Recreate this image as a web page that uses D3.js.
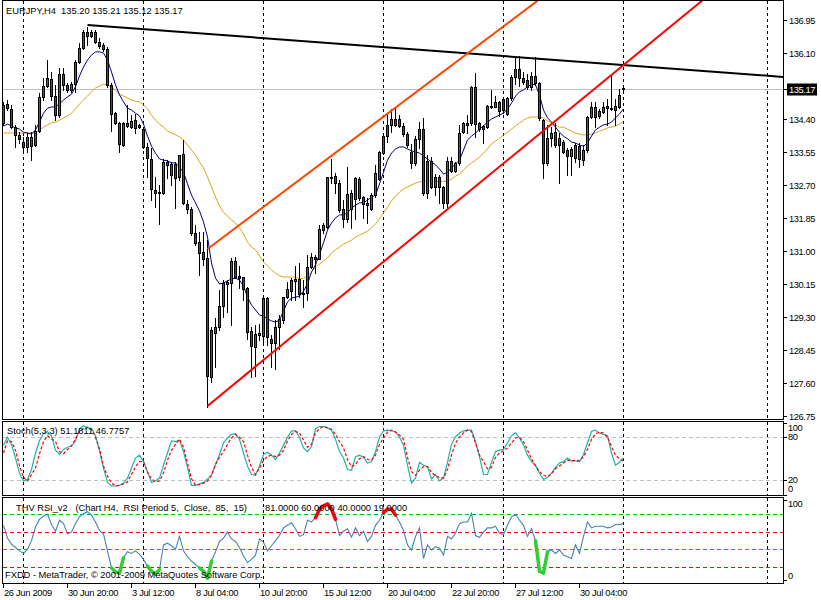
<!DOCTYPE html>
<html><head><meta charset="utf-8">
<script src="https://cdn.jsdelivr.net/npm/d3@7"></script>
<style>
html,body{margin:0;padding:0;background:#fff;}
svg{display:block;font-family:"Liberation Sans",Arial,sans-serif;}
</style></head><body>
<svg id="c" width="821" height="600"></svg>
<script>
// ---------------- DATA ----------------
const symbolTitle = "EURJPY,H4";
const lastQuote = [135.20, 135.21, 135.12, 135.17];
const openP = [134.30,134.79,134.66,134.19,133.99,133.81,133.68,133.94,133.73,134.09,
134.97,135.25,135.43,134.99,134.50,135.56,135.28,135.15,135.30,135.87,
136.23,136.64,136.54,136.64,136.38,136.31,136.20,135.28,134.55,134.30,
133.73,134.30,134.19,134.37,134.25,134.14,133.68,133.37,132.57,132.52,
132.49,133.29,132.96,133.24,132.91,133.50,132.21,132.08,131.46,131.23,
130.97,130.82,127.75,128.89,129.04,129.58,130.15,130.18,130.74,130.36,
130.33,130.05,128.94,128.53,128.84,128.81,129.79,128.73,128.63,129.04,
129.22,129.81,129.97,130.23,130.28,129.89,129.92,130.59,130.84,130.79,
131.54,131.62,132.88,132.93,132.75,132.08,131.83,132.08,132.34,132.85,
132.39,132.23,132.08,132.44,132.85,133.52,133.96,134.25,134.25,134.40,
134.22,134.01,133.55,133.27,133.89,134.14,132.49,133.32,132.65,132.91,
132.65,132.23,133.32,133.06,133.27,134.06,134.30,134.30,135.23,134.30,
134.22,134.19,134.73,134.71,134.84,134.92,134.53,134.94,135.48,135.69,
135.46,135.40,135.23,135.51,135.33,134.37,133.27,133.91,134.06,133.91,
133.81,133.60,133.45,133.40,133.70,133.34,133.60,134.45,134.71,134.61,
134.58,134.73,134.68,134.63,134.71,135.20];
const highP = [134.84,134.89,134.76,134.25,134.06,133.94,134.04,134.06,134.25,135.07,
135.46,135.92,135.61,135.28,135.71,135.71,135.33,135.35,135.92,136.36,
136.69,136.77,136.69,136.69,136.49,136.36,136.25,135.33,134.58,134.32,
134.32,134.76,134.50,134.53,134.27,134.19,133.78,133.65,132.91,132.70,
133.37,133.34,133.29,133.29,133.47,133.87,132.31,132.13,131.67,131.49,
131.49,131.28,129.04,129.27,130.00,130.25,130.25,130.82,130.84,130.61,
130.33,130.07,129.04,129.09,129.12,129.81,129.81,128.84,129.22,129.35,
129.81,130.20,130.31,130.61,130.69,130.25,130.90,130.95,130.90,131.67,
131.72,132.91,133.37,133.01,132.83,132.31,133.16,132.57,132.91,132.91,
132.41,132.36,132.49,133.22,133.57,134.04,134.55,134.66,134.71,134.50,
134.30,134.06,133.76,133.96,134.32,134.42,133.47,133.42,132.98,132.96,
132.67,133.42,133.42,133.29,134.25,134.32,134.50,135.25,135.59,134.32,
134.25,134.76,135.15,134.99,134.86,134.97,134.97,135.54,136.02,136.02,
135.61,135.56,135.61,135.99,135.35,134.40,134.25,134.19,134.30,134.04,
133.86,133.65,133.68,133.78,133.78,133.73,134.48,134.84,134.84,134.66,
134.84,134.92,135.53,134.92,135.17,135.21];
const lowP = [134.25,134.63,134.17,133.68,133.78,133.60,133.55,133.34,133.70,134.06,
134.89,135.22,134.89,134.37,134.45,135.15,135.09,135.09,135.09,135.84,
136.20,136.31,136.51,136.36,136.23,136.15,135.22,134.09,134.27,133.55,
133.70,134.19,134.17,134.04,134.17,133.65,132.91,132.31,132.13,131.70,
132.47,132.88,132.70,132.11,132.83,132.21,131.98,131.41,131.15,130.38,
130.64,126.98,127.62,128.01,128.96,129.30,129.43,129.09,130.31,130.05,
129.74,128.73,127.75,127.78,128.71,128.66,128.58,128.01,127.96,128.48,
129.14,129.79,129.74,129.74,129.81,129.56,129.74,130.56,130.43,130.82,
131.46,131.59,132.75,132.49,132.01,131.62,131.75,131.59,131.83,132.31,
131.85,131.72,132.06,132.39,132.83,133.50,133.81,134.06,134.22,134.19,
133.96,133.68,133.14,133.22,133.65,132.44,132.36,132.62,132.44,132.23,
132.11,132.13,133.04,133.04,133.22,134.04,134.04,134.25,133.94,134.09,
133.78,134.17,134.68,134.71,134.48,134.55,134.50,134.89,135.30,135.25,
135.30,135.17,135.15,135.28,134.37,132.88,133.22,133.70,133.68,132.75,
133.52,132.96,132.96,133.29,133.16,133.22,133.55,134.43,134.19,134.43,
134.55,134.25,134.63,134.25,134.68,135.12];
const closeP = [134.76,134.68,134.19,133.99,133.88,133.68,133.94,133.70,134.09,134.97,
135.25,135.46,134.99,134.50,135.56,135.28,135.15,135.30,135.87,136.23,
136.64,136.54,136.64,136.38,136.28,136.20,135.28,134.53,134.30,133.76,
134.30,134.22,134.35,134.17,134.19,133.68,133.39,132.60,132.49,132.49,
133.29,133.22,133.24,132.88,133.47,132.23,132.08,131.46,131.21,130.95,
130.79,127.78,128.96,129.04,129.58,130.18,130.20,130.74,130.33,130.31,
130.02,128.91,128.55,128.86,128.89,129.79,128.78,128.63,129.04,129.25,
129.81,130.02,130.25,130.28,129.89,129.92,130.59,130.84,130.79,131.57,
131.67,132.91,132.91,132.75,132.06,131.83,132.47,132.49,132.88,132.36,
132.21,132.18,132.44,133.01,133.55,133.96,134.25,134.40,134.40,134.22,
134.01,133.73,133.27,133.89,134.14,132.49,133.32,132.65,132.91,132.65,
132.23,133.32,133.06,133.27,134.04,134.30,134.25,135.23,134.27,134.14,
134.14,134.73,134.71,134.84,134.61,134.63,134.94,135.49,135.69,135.46,
135.35,135.23,135.51,135.33,134.43,133.27,133.91,134.04,133.73,133.73,
133.55,133.45,133.63,133.73,133.37,133.60,134.45,134.71,134.45,134.48,
134.71,134.68,134.66,134.73,135.02,135.17];
const maFast = [134.22,134.27,134.22,134.17,134.14,134.06,134.04,134.01,134.12,134.32,
134.55,134.68,134.71,134.71,134.79,134.89,134.97,135.04,135.23,135.51,
135.74,135.92,136.05,136.13,136.13,136.10,135.92,135.61,135.28,135.02,
134.84,134.68,134.63,134.55,134.48,134.27,133.96,133.70,133.52,133.37,
133.34,133.32,133.27,133.27,133.16,133.03,132.73,132.44,132.24,132.03,
131.75,131.36,130.69,130.30,130.15,130.18,130.23,130.28,130.30,130.25,
130.10,129.81,129.61,129.48,129.35,129.33,129.25,129.20,129.17,129.22,
129.45,129.69,129.79,129.81,129.84,129.97,130.15,130.46,130.64,130.92,
131.21,131.54,131.72,131.85,131.93,131.93,131.98,132.11,132.18,132.24,
132.24,132.31,132.39,132.44,132.73,133.03,133.34,133.52,133.63,133.68,
133.68,133.63,133.58,133.55,133.52,133.45,133.37,133.29,133.22,133.11,
132.98,133.03,133.14,133.24,133.34,133.60,133.86,133.96,134.04,134.14,
134.22,134.32,134.40,134.45,134.50,134.55,134.66,134.81,134.99,135.10,
135.15,135.23,135.30,135.28,135.02,134.63,134.43,134.32,134.19,134.06,
133.96,133.89,133.81,133.78,133.73,133.70,133.78,133.96,134.12,134.19,
134.25,134.27,134.32,134.43,134.53,134.66];
const maSlow = [134.04,134.04,134.04,134.04,134.04,134.04,134.04,134.04,134.06,134.12,
134.19,134.25,134.30,134.32,134.37,134.43,134.48,134.55,134.66,134.79,
134.89,134.99,135.10,135.20,135.25,135.30,135.28,135.23,135.15,135.04,
134.99,134.94,134.89,134.86,134.84,134.76,134.66,134.50,134.37,134.27,
134.19,134.09,134.04,133.99,133.94,133.86,133.73,133.60,133.47,133.29,
133.14,132.91,132.65,132.39,132.16,132.00,131.90,131.80,131.72,131.59,
131.44,131.23,131.10,131.03,130.87,130.72,130.61,130.51,130.43,130.36,
130.33,130.33,130.33,130.33,130.28,130.30,130.36,130.46,130.59,130.66,
130.74,130.82,130.95,131.03,131.10,131.18,131.23,131.28,131.36,131.41,
131.46,131.51,131.59,131.70,131.83,131.98,132.13,132.29,132.41,132.52,
132.60,132.65,132.70,132.75,132.78,132.80,132.80,132.80,132.80,132.78,
132.80,132.80,132.85,132.93,132.98,133.09,133.19,133.27,133.34,133.42,
133.52,133.63,133.76,133.83,133.91,133.99,134.06,134.14,134.22,134.30,
134.37,134.43,134.45,134.45,134.45,134.43,134.35,134.30,134.25,134.19,
134.19,134.14,134.09,134.04,134.01,133.99,133.99,134.01,134.04,134.09,
134.12,134.17,134.19,134.22,134.27,134.35];
const stochMain = [69,80,70,51,30,19,21,35,58,75,
85,88,82,62,56,63,66,68,74,92,
96,93,92,82,61,37,17,12,12,13,
16,23,37,51,55,46,32,17,19,23,
41,58,75,74,76,60,38,13,13,15,
17,22,27,42,56,72,79,84,85,77,
58,40,28,27,40,56,59,55,49,58,
69,80,89,89,80,65,60,67,92,95,
95,93,90,77,60,51,35,34,53,55,
52,44,46,60,80,89,90,89,88,80,
69,41,16,23,45,41,39,22,28,19,
23,45,70,81,86,89,90,90,74,53,
28,28,45,60,62,63,72,82,86,79,
69,55,46,41,30,21,24,30,38,44,
46,51,47,47,46,56,72,88,90,86,
84,82,58,41,45,51.1811];
const stochSignal = [58,75,74,62,40,24,19,28,37,57,
74,82,78,74,60,57,63,68,78,88,
92,94,91,80,64,40,26,16,12,13,
15,18,28,39,46,46,31,22,18,19,
30,48,62,70,77,66,44,22,13,14,
16,19,27,42,52,60,70,79,84,80,
74,55,38,28,37,48,53,55,53,55,
62,75,84,88,86,76,66,70,86,92,
95,93,91,84,74,65,49,39,42,50,
53,49,48,55,70,79,87,90,87,83,
77,52,32,27,34,39,39,31,26,24,
23,35,55,72,80,86,90,88,72,55,
46,36,38,52,58,61,65,72,79,80,
74,62,50,40,32,27,25,29,36,40,
44,48,47,48,47,53,63,77,85,87,
86,80,67,55,50,46.7757];
const rsiValues = [68,53,46,42,38,35,40,50,66,75,
79,81,69,61,74,70,58,60,70,78,
82,84,80,72,62,58,38,18,13,12,
30,37,35,38,34,28,20,14,11,16,
45,47,44,40,55,38,31,26,22,18,
14,6,26,37,49,53,60,52,49,42,
32,24,28,33,52,48,38,44,50,56,
65,68,71,64,55,57,74,72,77,87,
91,93,87,75,56,61,64,54,65,56,
61,49,55,68,74,83,87,87,80,72,
62,45,39,55,65,29,45,39,43,41,
33,55,52,59,70,72,72,82,56,54,
60,65,65,67,59,57,68,78,81,74,
68,55,64,50,14,12,37,39,35,39,
33,31,29,45,35,55,72,65,67,67,
67,65,66,69,69,70];
const priceTicks = [136.95,136.10,134.40,133.55,132.70,131.85,131.00,130.15,129.30,128.45,127.60,126.75];
const timeLabels = ["26 Jun 2009","30 Jun 20:00","3 Jul 12:00","8 Jul 04:00","10 Jul 20:00","15 Jul 12:00","20 Jul 04:00","22 Jul 20:00","27 Jul 12:00","30 Jul 04:00"];
const timeLabelBars = [0,16,32,48,64,80,96,112,128,144];
const separatorBars = [5,35,65,95,125,155,191];
const trendBlack = [[21,136.82],[195.5,135.48]];
const channelUpper = [[51,131.05],[120,136.40]];
const channelLower = [[51,127.01],[155,135.79]];
const stochParams = "Stoch(5,3,3)";
const stochLevels = [80,20];
const stochAxisLabels = [100,80,20,0];
const rsiTitle = "THV RSI_v2   (Chart H4,  RSI Period 5,  Close,  85,  15)";
const rsiLevels = [81,60,40,19];
const rsiLevelColors = ["#00c800","#ff0000","#00c800","#ff0000"];
const rsiBounds = [85,15];
const rsiAxisLabels = [100,0];
const copyrightText = "FXDD - MetaTrader, \u00a9 2001-2009 MetaQuotes Software Corp.";

// ---------------- LAYOUT ----------------
const svg = d3.select("#c");
const W = 821, LEFT = 2.5, RIGHT = 783.5;
const P = {main:[0.5,419.5], stoch:[421.5,495.5], rsi:[497.5,583.5]};
const FONT = 9.3;

const x = d3.scaleLinear().domain([0,155]).range([3.5,623.5]);
const yP = d3.scaleLinear().domain([126.75,136.95]).range([416,20]);
const yS = d3.scaleLinear().domain([0,100]).range([494.6,422.9]);
const yR = d3.scaleLinear().domain([0,100]).range([583.2,498.1]);

svg.append("rect").attr("width",W).attr("height",600).attr("fill","#fff");

const defs = svg.append("defs");
Object.entries(P).forEach(([k,[t,b]])=>{
  defs.append("clipPath").attr("id","clip-"+k).append("rect")
    .attr("x",LEFT+0.5).attr("y",t+0.5).attr("width",RIGHT-LEFT-1).attr("height",b-t-1);
});

// separators
Object.entries(P).forEach(([k,[t,b]])=>{
  svg.append("g").selectAll("line").data(separatorBars).join("line")
    .attr("x1",d=>x(d)).attr("x2",d=>x(d)).attr("y1",t).attr("y2",b)
    .attr("stroke","#000").attr("stroke-dasharray","3,3").attr("shape-rendering","crispEdges");
});

// ---------------- MAIN PANEL ----------------
const gMain = svg.append("g").attr("clip-path","url(#clip-main)");
const bidY = Math.round(yP(lastQuote[3]))+0.5;
gMain.append("line").attr("x1",LEFT).attr("x2",RIGHT).attr("y1",bidY).attr("y2",bidY)
  .attr("stroke","#c0c0c0").attr("shape-rendering","crispEdges");

const idx = d3.range(openP.length);
const lineGen = (arr,ys)=>d3.line().x(i=>x(i)).y(i=>ys(arr[i]))(idx.filter(i=>arr[i]!=null));
gMain.append("path").attr("d",lineGen(maSlow,yP)).attr("fill","none").attr("stroke","#daa520").attr("stroke-width",1);
gMain.append("path").attr("d",lineGen(maFast,yP)).attr("fill","none").attr("stroke","#000080").attr("stroke-width",1);

const gC = gMain.append("g").attr("shape-rendering","crispEdges");
idx.forEach(i=>{
  const cx = x(i);
  const yh = Math.round(yP(highP[i])), yl = Math.round(yP(lowP[i]));
  const yo = Math.round(yP(openP[i])), yc = Math.round(yP(closeP[i]));
  gC.append("rect").attr("x",cx-0.5).attr("y",yh).attr("width",1).attr("height",Math.max(1,yl-yh+1)).attr("fill","#000");
  const top = Math.min(yo,yc), bot = Math.max(yo,yc);
  const h = bot-top+1;
  gC.append("rect").attr("x",cx-1.5).attr("y",top).attr("width",3).attr("height",h).attr("fill","#000");
  if (h>2) {
    gC.append("rect").attr("x",cx-0.5).attr("y",top+1).attr("width",1).attr("height",h-2)
      .attr("fill", closeP[i]>=openP[i] ? "#008080" : "#ff0000");
  }
});

function ray(p, endBar){
  const [a,b] = p;
  const slope = (b[1]-a[1])/(b[0]-a[0]);
  return [[x(a[0]),yP(a[1])],[x(endBar),yP(a[1]+slope*(endBar-a[0]))]];
}
const lg = d3.line();
gMain.append("path").attr("d",lg(ray(trendBlack,trendBlack[1][0]))).attr("stroke","#000").attr("stroke-width",2).attr("fill","none");
gMain.append("path").attr("d",lg(ray(channelUpper,200))).attr("stroke","#ff4500").attr("stroke-width",2).attr("fill","none");
gMain.append("path").attr("d",lg(ray(channelLower,200))).attr("stroke","#ff0000").attr("stroke-width",2).attr("fill","none");

// ---------------- STOCH PANEL ----------------
const gS = svg.append("g").attr("clip-path","url(#clip-stoch)");
gS.selectAll("line.lvl").data(stochLevels).join("line")
  .attr("x1",LEFT).attr("x2",RIGHT).attr("y1",d=>Math.round(yS(d))+0.5).attr("y2",d=>Math.round(yS(d))+0.5)
  .attr("stroke","#c0c0c0").attr("stroke-dasharray","4,3").attr("shape-rendering","crispEdges");
gS.append("path").attr("d",lineGen(stochMain,yS)).attr("fill","none").attr("stroke","#20b2aa").attr("stroke-width",1.2);
gS.append("path").attr("d",lineGen(stochSignal,yS)).attr("fill","none").attr("stroke","#ff0000").attr("stroke-width",1.2).attr("stroke-dasharray","3,2");

// ---------------- RSI PANEL ----------------
const gR = svg.append("g").attr("clip-path","url(#clip-rsi)");
gR.selectAll("line.lvl").data(rsiLevels).join("line")
  .attr("x1",LEFT).attr("x2",RIGHT).attr("y1",d=>Math.round(yR(d))+0.5).attr("y2",d=>Math.round(yR(d))+0.5)
  .attr("stroke",(d,i)=>rsiLevelColors[i]).attr("stroke-dasharray","4,3").attr("shape-rendering","crispEdges");
gR.append("path").attr("d",lineGen(rsiValues,yR)).attr("fill","none").attr("stroke","#4682b4").attr("stroke-width",1.1);
for (let i=1;i<rsiValues.length;i++){
  const a=rsiValues[i-1], b=rsiValues[i];
  let col=null;
  if (a>rsiBounds[0]||b>rsiBounds[0]) col="#ff0000";
  else if (a<rsiBounds[1]||b<rsiBounds[1]) col="#32cd32";
  if (col) gR.append("line").attr("x1",x(i-1)).attr("y1",yR(a)).attr("x2",x(i)).attr("y2",yR(b))
    .attr("stroke",col).attr("stroke-width",3.5).attr("stroke-linecap","round");
}

// ---------------- FRAMES ----------------
Object.values(P).forEach(([t,b])=>{
  svg.append("rect").attr("x",LEFT).attr("y",t).attr("width",RIGHT-LEFT).attr("height",b-t)
    .attr("fill","none").attr("stroke","#000").attr("shape-rendering","crispEdges");
});

// ---------------- AXES / TEXT ----------------
const txt = (g,s,xx,yy,opt={})=>g.append("text").attr("x",xx).attr("y",yy).text(s)
  .attr("font-size",opt.size||FONT).attr("fill",opt.fill||"#000")
  .attr("letter-spacing",opt.ls||0).style("white-space","pre");

const gA = svg.append("g");
// price axis
priceTicks.forEach(p=>{
  const yy = Math.round(yP(p))+0.5;
  gA.append("line").attr("x1",RIGHT).attr("x2",RIGHT+3.5).attr("y1",yy).attr("y2",yy).attr("stroke","#000").attr("shape-rendering","crispEdges");
  txt(gA,p.toFixed(2),789,yy+3.3,{ls:-0.4});
});
// current price box
gA.append("line").attr("x1",RIGHT).attr("x2",RIGHT+3.5).attr("y1",bidY).attr("y2",bidY).attr("stroke","#000");
gA.append("rect").attr("x",787).attr("y",bidY-6).attr("width",30).attr("height",12).attr("fill","#000");
txt(gA,lastQuote[3].toFixed(2),789,bidY+3.3,{fill:"#fff",ls:-0.4});

// stoch axis labels
stochAxisLabels.forEach(v=>{
  const yy = Math.round(yS(v))+0.5;
  gA.append("line").attr("x1",RIGHT).attr("x2",RIGHT+3.5).attr("y1",Math.min(Math.max(yy,P.stoch[0]),P.stoch[1])).attr("y2",Math.min(Math.max(yy,P.stoch[0]),P.stoch[1])).attr("stroke","#000").attr("shape-rendering","crispEdges");
  const by = Math.min(Math.max(yy+2.5,P.stoch[0]+9.5),P.stoch[1]-4);
  txt(gA,String(v),788,by,{ls:-0.4});
});
rsiAxisLabels.forEach(v=>{
  const yy = Math.round(yR(v))+0.5;
  const ty = Math.min(Math.max(yy,P.rsi[0]+3),P.rsi[1]-3);
  gA.append("line").attr("x1",RIGHT).attr("x2",RIGHT+3.5).attr("y1",ty).attr("y2",ty).attr("stroke","#000").attr("shape-rendering","crispEdges");
  const by = Math.min(Math.max(yy+3.3,P.rsi[0]+9.5),P.rsi[1]-4.5);
  txt(gA,String(v),788,by,{ls:-0.4});
});

// time axis
timeLabelBars.forEach((b,k)=>{
  const xx = x(b)-0.5;
  gA.append("line").attr("x1",xx).attr("x2",xx).attr("y1",P.rsi[1]).attr("y2",P.rsi[1]+4).attr("stroke","#000").attr("shape-rendering","crispEdges");
  txt(gA,timeLabels[k],xx+1,596,{ls:-0.3});
});

// titles
txt(gA,symbolTitle+"  "+lastQuote.map(v=>v.toFixed(2)).join(" "),6,14);
txt(gA,stochParams+" "+stochMain[stochMain.length-1].toFixed(4)+" "+stochSignal[stochSignal.length-1].toFixed(4),7,434);
txt(gA,rsiTitle,16,510.5);
txt(gA,rsiLevels.map(v=>v.toFixed(4)).join(" "),265,510.5);
txt(gA,copyrightText,5,578);
</script>
</body></html>
